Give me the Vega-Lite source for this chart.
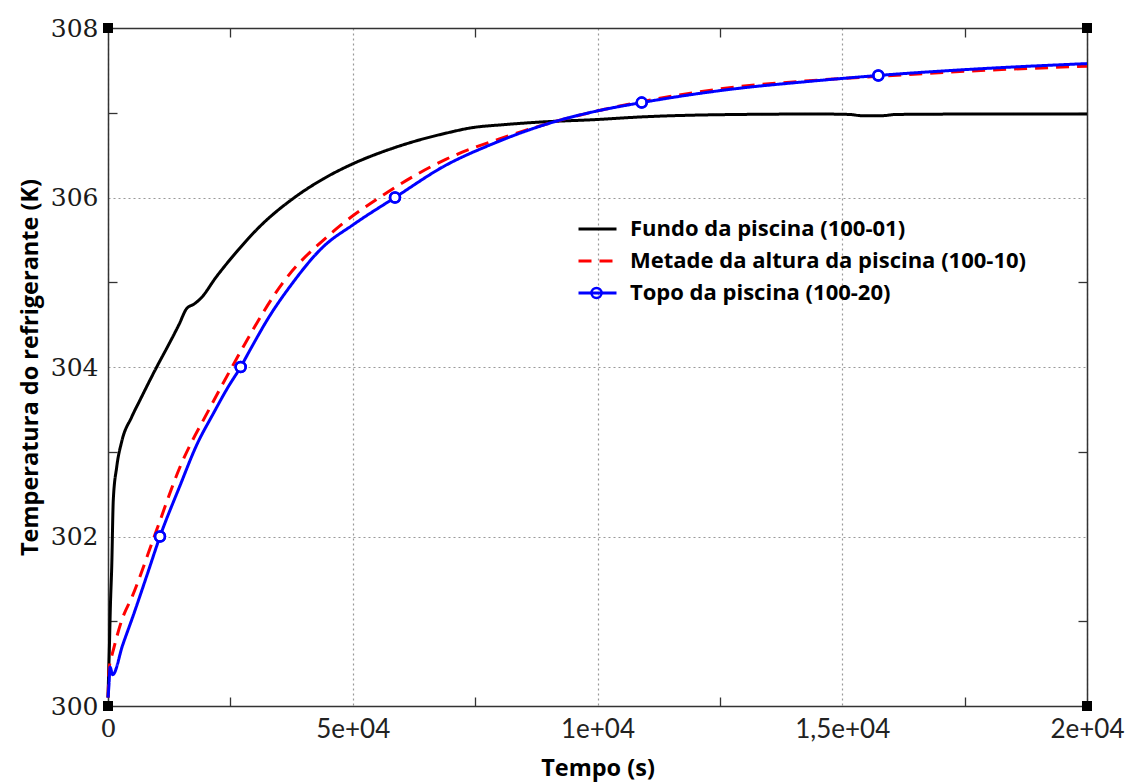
{
  "$schema": "https://vega.github.io/schema/vega-lite/v6.json",
  "width": 979,
  "height": 678,
  "autosize": {"type": "none"},
  "padding": {"left": 108, "top": 28, "right": 46, "bottom": 76},
  "background": "white",
  "config": {"view": {"stroke": null}},
  "datasets": {
    "lines": [
      {"serie": "Fundo da piscina (100-01)", "t": 0, "T": 300.10},
      {"serie": "Fundo da piscina (100-01)", "t": 6, "T": 300.23},
      {"serie": "Fundo da piscina (100-01)", "t": 27, "T": 300.66},
      {"serie": "Fundo da piscina (100-01)", "t": 50, "T": 301.2},
      {"serie": "Fundo da piscina (100-01)", "t": 76, "T": 301.64},
      {"serie": "Fundo da piscina (100-01)", "t": 108, "T": 302.43},
      {"serie": "Fundo da piscina (100-01)", "t": 178, "T": 302.82},
      {"serie": "Fundo da piscina (100-01)", "t": 280, "T": 303.12},
      {"serie": "Fundo da piscina (100-01)", "t": 484, "T": 303.41},
      {"serie": "Fundo da piscina (100-01)", "t": 654, "T": 303.61},
      {"serie": "Fundo da piscina (100-01)", "t": 995, "T": 304.00},
      {"serie": "Fundo da piscina (100-01)", "t": 1199, "T": 304.22},
      {"serie": "Fundo da piscina (100-01)", "t": 1450, "T": 304.50},
      {"serie": "Fundo da piscina (100-01)", "t": 1608, "T": 304.69},
      {"serie": "Fundo da piscina (100-01)", "t": 1750, "T": 304.74},
      {"serie": "Fundo da piscina (100-01)", "t": 1879, "T": 304.80},
      {"serie": "Fundo da piscina (100-01)", "t": 2221, "T": 305.07},
      {"serie": "Fundo da piscina (100-01)", "t": 2629, "T": 305.36},
      {"serie": "Fundo da piscina (100-01)", "t": 3105, "T": 305.66},
      {"serie": "Fundo da piscina (100-01)", "t": 3786, "T": 305.99},
      {"serie": "Fundo da piscina (100-01)", "t": 4399, "T": 306.22},
      {"serie": "Fundo da piscina (100-01)", "t": 5011, "T": 306.40},
      {"serie": "Fundo da piscina (100-01)", "t": 5761, "T": 306.57},
      {"serie": "Fundo da piscina (100-01)", "t": 6306, "T": 306.67},
      {"serie": "Fundo da piscina (100-01)", "t": 6987, "T": 306.77},
      {"serie": "Fundo da piscina (100-01)", "t": 7395, "T": 306.82},
      {"serie": "Fundo da piscina (100-01)", "t": 8100, "T": 306.86},
      {"serie": "Fundo da piscina (100-01)", "t": 8825, "T": 306.89},
      {"serie": "Fundo da piscina (100-01)", "t": 9984, "T": 306.92},
      {"serie": "Fundo da piscina (100-01)", "t": 10868, "T": 306.95},
      {"serie": "Fundo da piscina (100-01)", "t": 12911, "T": 306.98},
      {"serie": "Fundo da piscina (100-01)", "t": 14500, "T": 306.985},
      {"serie": "Fundo da piscina (100-01)", "t": 15150, "T": 306.98},
      {"serie": "Fundo da piscina (100-01)", "t": 15400, "T": 306.965},
      {"serie": "Fundo da piscina (100-01)", "t": 15800, "T": 306.965},
      {"serie": "Fundo da piscina (100-01)", "t": 16100, "T": 306.98},
      {"serie": "Fundo da piscina (100-01)", "t": 18000, "T": 306.985},
      {"serie": "Fundo da piscina (100-01)", "t": 20000, "T": 306.985},
      {"serie": "Metade da altura da piscina (100-10)", "t": 0, "T": 300.10},
      {"serie": "Metade da altura da piscina (100-10)", "t": 6, "T": 300.19},
      {"serie": "Metade da altura da piscina (100-10)", "t": 27, "T": 300.46},
      {"serie": "Metade da altura da piscina (100-10)", "t": 60, "T": 300.55},
      {"serie": "Metade da altura da piscina (100-10)", "t": 108, "T": 300.66},
      {"serie": "Metade da altura da piscina (100-10)", "t": 280, "T": 301.01},
      {"serie": "Metade da altura da piscina (100-10)", "t": 500, "T": 301.30},
      {"serie": "Metade da altura da piscina (100-10)", "t": 995, "T": 302.08},
      {"serie": "Metade da altura da piscina (100-10)", "t": 1471, "T": 302.82},
      {"serie": "Metade da altura da piscina (100-10)", "t": 2084, "T": 303.52},
      {"serie": "Metade da altura da piscina (100-10)", "t": 2629, "T": 304.10},
      {"serie": "Metade da altura da piscina (100-10)", "t": 2764, "T": 304.24},
      {"serie": "Metade da altura da piscina (100-10)", "t": 3580, "T": 305.00},
      {"serie": "Metade da altura da piscina (100-10)", "t": 4603, "T": 305.60},
      {"serie": "Metade da altura da piscina (100-10)", "t": 5624, "T": 306.03},
      {"serie": "Metade da altura da piscina (100-10)", "t": 6900, "T": 306.45},
      {"serie": "Metade da altura da piscina (100-10)", "t": 8145, "T": 306.72},
      {"serie": "Metade da altura da piscina (100-10)", "t": 9097, "T": 306.89},
      {"serie": "Metade da altura da piscina (100-10)", "t": 9984, "T": 307.02},
      {"serie": "Metade da altura da piscina (100-10)", "t": 10903, "T": 307.13},
      {"serie": "Metade da altura da piscina (100-10)", "t": 12911, "T": 307.31},
      {"serie": "Metade da altura da piscina (100-10)", "t": 14137, "T": 307.37},
      {"serie": "Metade da altura da piscina (100-10)", "t": 15737, "T": 307.43},
      {"serie": "Metade da altura da piscina (100-10)", "t": 17542, "T": 307.49},
      {"serie": "Metade da altura da piscina (100-10)", "t": 20000, "T": 307.55},
      {"serie": "Topo da piscina (100-20)", "t": 0, "T": 300.10},
      {"serie": "Topo da piscina (100-20)", "t": 20, "T": 300.25},
      {"serie": "Topo da piscina (100-20)", "t": 41, "T": 300.46},
      {"serie": "Topo da piscina (100-20)", "t": 96, "T": 300.37},
      {"serie": "Topo da piscina (100-20)", "t": 300, "T": 300.72},
      {"serie": "Topo da piscina (100-20)", "t": 517, "T": 301.07},
      {"serie": "Topo da piscina (100-20)", "t": 800, "T": 301.55},
      {"serie": "Topo da piscina (100-20)", "t": 1062, "T": 302.00},
      {"serie": "Topo da piscina (100-20)", "t": 1471, "T": 302.60},
      {"serie": "Topo da piscina (100-20)", "t": 1812, "T": 303.08},
      {"serie": "Topo da piscina (100-20)", "t": 2151, "T": 303.45},
      {"serie": "Topo da piscina (100-20)", "t": 2450, "T": 303.76},
      {"serie": "Topo da piscina (100-20)", "t": 2710, "T": 304.00},
      {"serie": "Topo da piscina (100-20)", "t": 2901, "T": 304.20},
      {"serie": "Topo da piscina (100-20)", "t": 3300, "T": 304.60},
      {"serie": "Topo da piscina (100-20)", "t": 3718, "T": 304.95},
      {"serie": "Topo da piscina (100-20)", "t": 4399, "T": 305.42},
      {"serie": "Topo da piscina (100-20)", "t": 5011, "T": 305.68},
      {"serie": "Topo da piscina (100-20)", "t": 5863, "T": 306.00},
      {"serie": "Topo da piscina (100-20)", "t": 6900, "T": 306.38},
      {"serie": "Topo da piscina (100-20)", "t": 7804, "T": 306.62},
      {"serie": "Topo da piscina (100-20)", "t": 9097, "T": 306.89},
      {"serie": "Topo da piscina (100-20)", "t": 9984, "T": 307.02},
      {"serie": "Topo da piscina (100-20)", "t": 10903, "T": 307.12},
      {"serie": "Topo da piscina (100-20)", "t": 12911, "T": 307.29},
      {"serie": "Topo da piscina (100-20)", "t": 14137, "T": 307.36},
      {"serie": "Topo da piscina (100-20)", "t": 15737, "T": 307.44},
      {"serie": "Topo da piscina (100-20)", "t": 17542, "T": 307.51},
      {"serie": "Topo da piscina (100-20)", "t": 20000, "T": 307.58}
    ],
    "markers": [
      {"serie": "Topo da piscina (100-20)", "t": 1062, "T": 302.00},
      {"serie": "Topo da piscina (100-20)", "t": 2710, "T": 304.00},
      {"serie": "Topo da piscina (100-20)", "t": 5863, "T": 306.00},
      {"serie": "Topo da piscina (100-20)", "t": 10903, "T": 307.12},
      {"serie": "Topo da piscina (100-20)", "t": 15737, "T": 307.44}
    ],
    "corners": [
      {"t": 0, "T": 300},
      {"t": 0, "T": 308},
      {"t": 20000, "T": 300},
      {"t": 20000, "T": 308}
    ]
  },
  "layer": [
    {
      "data": {"name": "lines"},
      "mark": {"type": "line", "strokeWidth": 3, "interpolate": "monotone"},
      "encoding": {
        "x": {
          "field": "t", "type": "quantitative",
          "scale": {"domain": [0, 20000], "nice": false},
          "axis": {
            "orient": "bottom",
            "values": [0, 2500, 5000, 7500, 10000, 12500, 15000, 17500, 20000],
            "labelExpr": "datum.value == 0 ? '0' : datum.value == 5000 ? '5e+04' : datum.value == 10000 ? '1e+04' : datum.value == 15000 ? '1,5e+04' : datum.value == 20000 ? '2e+04' : ''",
            "labelFont": {"condition": {"test": "datum.value == 0", "value": "DejaVu Serif"}, "value": "Lato"},
            "labelFontSize": {"condition": {"test": "datum.value == 0", "value": 25}, "value": 26},
            "labelColor": "#222222",
            "labelPadding": 19,
            "labelFlush": false,
            "labelOverlap": false,
            "tickSize": -9,
            "tickColor": "#333333",
            "tickWidth": 1.3,
            "tickOpacity": {"condition": {"test": "datum.value % 5000 == 0", "value": 0}, "value": 1},
            "grid": true,
            "gridColor": "#999999",
            "gridDash": [2, 3],
            "gridWidth": 1.2,
            "gridOpacity": {"condition": {"test": "datum.value % 5000 == 0", "value": 1}, "value": 0},
            "domain": true,
            "domainColor": "#333333",
            "domainWidth": 1.5,
            "title": "Tempo (s)",
            "titleFont": "Open Sans",
            "titleFontWeight": "bold",
            "titleFontSize": 23.5,
            "titleColor": "#000000",
            "titlePadding": 14
          }
        },
        "y": {
          "field": "T", "type": "quantitative",
          "scale": {"domain": [300, 308], "nice": false, "zero": false},
          "axis": {
            "orient": "left",
            "values": [300, 301, 302, 303, 304, 305, 306, 307, 308],
            "labelExpr": "datum.value % 2 == 0 ? format(datum.value, 'd') : ''",
            "labelFont": "DejaVu Serif",
            "labelFontSize": 25,
            "labelColor": "#1a1a1a",
            "labelPadding": 19,
            "labelFlush": false,
            "labelOverlap": false,
            "tickSize": -9,
            "tickColor": "#333333",
            "tickWidth": 1.3,
            "tickOpacity": {"condition": {"test": "datum.value % 2 == 0", "value": 0}, "value": 1},
            "grid": true,
            "gridColor": "#999999",
            "gridDash": [2, 3],
            "gridWidth": 1.2,
            "gridOpacity": {"condition": {"test": "datum.value % 2 == 0", "value": 1}, "value": 0},
            "domain": true,
            "domainColor": "#333333",
            "domainWidth": 1.5,
            "title": "Temperatura do refrigerante (K)",
            "titleFont": "Open Sans",
            "titleFontWeight": "bold",
            "titleFontSize": 23.5,
            "titleColor": "#000000",
            "titlePadding": 8
          }
        },
        "color": {
          "field": "serie", "type": "nominal",
          "scale": {
            "domain": ["Fundo da piscina (100-01)", "Metade da altura da piscina (100-10)", "Topo da piscina (100-20)"],
            "range": ["#000000", "#ff0000", "#0000ff"]
          },
          "legend": {
            "orient": "none", "legendX": 469, "legendY": 186, "direction": "vertical",
            "title": null, "symbolType": "stroke", "symbolSize": 1444, "symbolStrokeWidth": 3,
            "labelFont": "Open Sans", "labelFontWeight": "bold", "labelFontSize": 22, "labelColor": "#000000",
            "labelLimit": 600, "clipHeight": 30, "rowPadding": 2, "labelOffset": 12, "padding": 0
          }
        },
        "strokeDash": {
          "field": "serie", "type": "nominal",
          "scale": {
            "domain": ["Fundo da piscina (100-01)", "Metade da altura da piscina (100-10)", "Topo da piscina (100-20)"],
            "range": [[1, 0], [13, 8], [1, 0]]
          },
          "legend": {
            "orient": "none", "legendX": 469, "legendY": 186, "direction": "vertical",
            "title": null, "symbolType": "stroke", "symbolSize": 1444, "symbolStrokeWidth": 3,
            "labelFont": "Open Sans", "labelFontWeight": "bold", "labelFontSize": 22, "labelColor": "#000000",
            "labelLimit": 600, "clipHeight": 30, "rowPadding": 2, "labelOffset": 12, "padding": 0
          }
        }
      }
    },
    {
      "data": {"name": "markers"},
      "mark": {"type": "point", "shape": "circle", "filled": true, "fill": "white", "stroke": "#0000ff", "strokeWidth": 2.5, "size": 100, "opacity": 1},
      "encoding": {
        "x": {
          "field": "t", "type": "quantitative",
          "axis": {
            "orient": "top", "values": [2500, 7500, 12500, 17500], "labels": false,
            "tickSize": -9, "tickColor": "#333333", "tickWidth": 1.3, "grid": false,
            "domain": true, "domainColor": "#333333", "domainWidth": 1.5, "title": null
          }
        },
        "y": {
          "field": "T", "type": "quantitative",
          "axis": {
            "orient": "right", "values": [301, 303, 305, 307], "labels": false,
            "tickSize": -9, "tickColor": "#333333", "tickWidth": 1.3, "grid": false,
            "domain": true, "domainColor": "#333333", "domainWidth": 1.5, "title": null
          }
        }
      }
    },
    {
      "data": {"name": "markers"},
      "mark": {"type": "point", "filled": false, "color": "#0000ff", "strokeWidth": 2.5, "size": 100, "opacity": 1},
      "encoding": {
        "x": {"field": "t", "type": "quantitative", "axis": null},
        "y": {"field": "T", "type": "quantitative", "axis": null},
        "shape": {
          "field": "serie", "type": "nominal",
          "scale": {"domain": ["Topo da piscina (100-20)"], "range": ["circle"]},
          "legend": {
            "orient": "none", "legendX": 482, "legendY": 250, "direction": "vertical",
            "title": null, "labelExpr": "''", "symbolStrokeColor": "#0000ff",
            "symbolStrokeWidth": 2.5, "symbolSize": 100, "clipHeight": 30, "padding": 0
          }
        }
      }
    },
    {
      "data": {"name": "corners"},
      "mark": {"type": "square", "filled": true, "color": "#000000", "size": 100, "opacity": 1},
      "encoding": {
        "x": {"field": "t", "type": "quantitative", "axis": null},
        "y": {"field": "T", "type": "quantitative", "axis": null}
      }
    }
  ],
  "resolve": {"axis": {"x": "independent", "y": "independent"}}
}
